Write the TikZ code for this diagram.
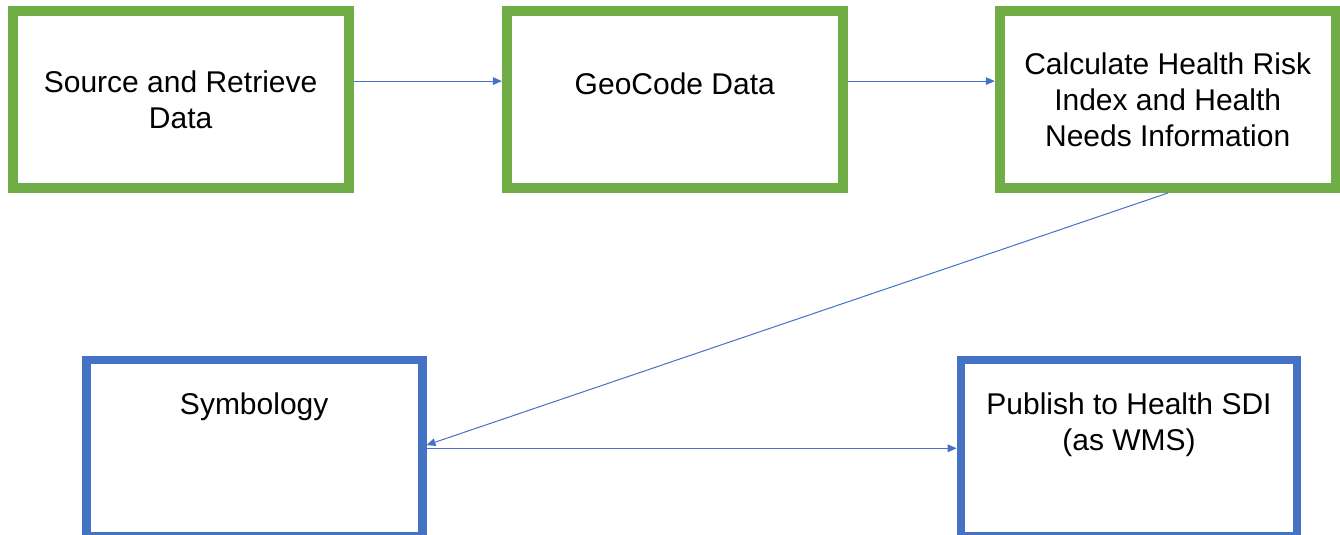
\documentclass[tikz,border=0pt]{standalone}
\usepackage{fontspec}
\setmainfont{Liberation Sans}
\usepackage{xcolor}
\usepackage{tikz}
\usetikzlibrary{positioning, arrows.meta, calc}
\definecolor{stepgreen}{HTML}{70AD47}
\definecolor{stepblue}{HTML}{4472C4}

\begin{document}
\begin{tikzpicture}[x=0.5pt, y=-0.5pt, every node/.style={font=\fontsize{15}{17.8}\selectfont},
	greenbox/.style={draw=stepgreen, line width=5pt, minimum width=167.9pt, minimum height=88.4pt, align=center, inner sep=0pt},
	bluebox/.style={draw=stepblue, line width=4.3pt, minimum width=168pt, minimum height=88.4pt, inner sep=0pt},
	flow/.style={stepblue, line width=0.5pt, -{Triangle[length=4.5pt,width=3.8pt]}}]
			\useasboundingbox (0,0) rectangle (1340,535);
			\clip (0,0) rectangle (1340,535);
			\pgfmathsetmacro{\rowa}{99.7}
			\pgfmathsetmacro{\rowb}{448.3}
			\node[greenbox] (source) at (180.6,\rowa) {Source and Retrieve\\Data};
			\node[greenbox] (geocode) at (674.8,\rowa) {};
			\node[anchor=base] (geocodetext) at (674.8,94.7) {GeoCode Data};
			\node[greenbox] (calc) at (1167.7,\rowa) {Calculate Health Risk\\Index and Health\\Needs Information};
			\node[bluebox] (symbology) at (254.2,\rowb) {};
			\node[anchor=base] (symbologytext) at (254.2,414.7) {Symbology};
			\node[bluebox] (publish) at (1129,\rowb) {};
			\node[align=center] (publishtext) at (1129,425) {Publish to Health SDI\\(as WMS)};
			\draw[flow] ([yshift=9.3pt]source.east) -- ([yshift=9.3pt]geocode.west);
			\draw[flow] ([yshift=9.3pt]geocode.east) -- ([yshift=9.3pt]calc.west);
			\draw[flow] (calc.south) -- ([yshift=1.6pt]symbology.east);
			\draw[flow] (symbology.east) -- (publish.west);
			\end{tikzpicture}
\end{document}
